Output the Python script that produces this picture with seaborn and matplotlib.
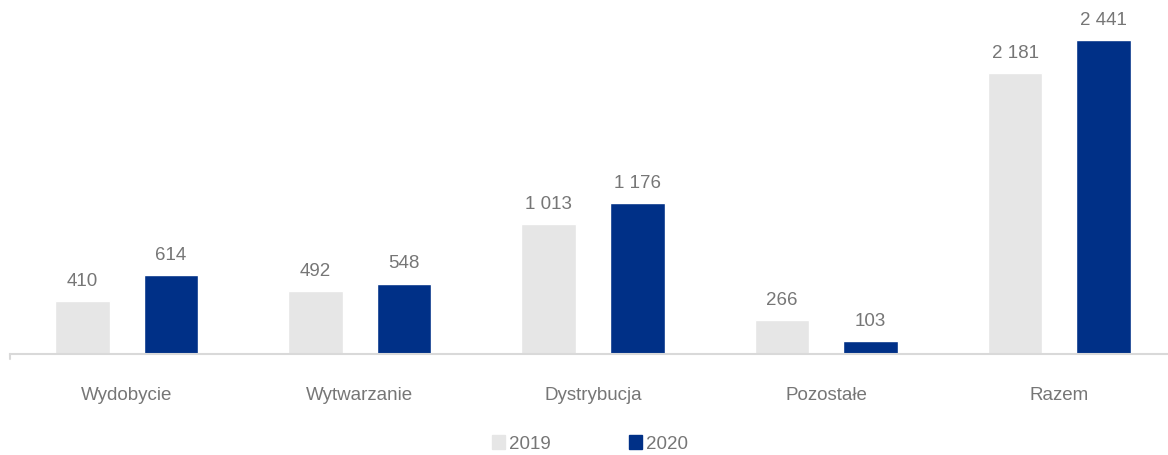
import pandas as pd
import matplotlib
matplotlib.use("Agg")
import matplotlib.pyplot as plt
import seaborn as sns

# Data
categories = ["Wydobycie", "Wytwarzanie", "Dystrybucja", "Pozostałe", "Razem"]
values_2019 = [410, 492, 1013, 266, 2181]
values_2020 = [614, 548, 1176, 103, 2441]
years = ["2019", "2020"]

df = pd.DataFrame({
    "kategoria": categories * 2,
    "rok": [years[0]] * len(categories) + [years[1]] * len(categories),
    "wartosc": values_2019 + values_2020,
})

sns.set_style("white")
plt.rcParams["font.family"] = ["Liberation Sans", "DejaVu Sans"]

text_color = "#767676"
palette = {"2019": "#E6E6E6", "2020": "#003087"}

fig = plt.figure(figsize=(11.68, 4.55), dpi=100)
# axis runs slightly past the right edge of the image, as in the reference
ax = fig.add_axes([10 / 1168, 101 / 455, 1166 / 1168, 354 / 455])

sns.barplot(data=df, x="kategoria", y="wartosc", hue="rok", palette=palette,
            width=0.76, gap=0.384, saturation=1, ax=ax, legend=False)

# Value labels with space as thousands separator
for container in ax.containers:
    labels = [f"{int(v):,}".replace(",", " ") for v in container.datavalues]
    ax.bar_label(container, labels=labels, padding=8, fontsize=13.5, color=text_color)

ax.set_ylim(0, 2752)
ax.set_xlim(-0.5, len(categories) - 0.5)
ax.set_xlabel("")
ax.set_ylabel("")
ax.set_yticks([])
ax.tick_params(axis="x", length=0, pad=24, labelsize=13.5, labelcolor=text_color)

for side in ["top", "right", "left"]:
    ax.spines[side].set_visible(False)
ax.spines["bottom"].set_color("#D9D9D9")
ax.spines["bottom"].set_linewidth(1.5)
# small tick at the left end of the axis
ax.plot([-0.5, -0.5], [0, -40], color="#D9D9D9", lw=1.5, clip_on=False)

# Legend
handles = [plt.Rectangle((0, 0), 1, 1, color=palette[y]) for y in years]
fig.legend(handles, years, loc="center", bbox_to_anchor=(590 / 1168, 11 / 455),
           ncol=2, frameon=False, fontsize=13.5, labelcolor=text_color,
           handlelength=0.7, handleheight=0.7, handletextpad=0.2, columnspacing=4.2)

fig.savefig("out.png", dpi=100)
